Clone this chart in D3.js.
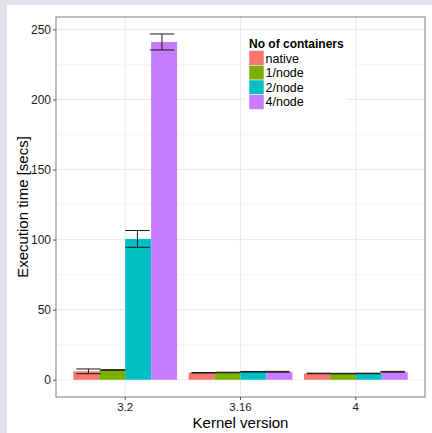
<!DOCTYPE html>
<html>
<head>
<meta charset="utf-8">
<script src="https://cdn.jsdelivr.net/npm/d3@7"></script>
<style>
  html, body { margin: 0; padding: 0; background: #e2e2ea; }
  svg { display: block; font-family: "Liberation Sans", Arial, sans-serif; }
</style>
</head>
<body>
<svg id="chart" width="432" height="433"></svg>
<script>
// Kernel versions on the x axis
const categories = ["3.2", "3.16", "4"];
// Container configurations (fill groups)
const seriesNames = ["native", "1/node", "2/node", "4/node"];
const seriesColors = ["#F8766D", "#7CAE00", "#00BFC4", "#C77CFF"];
// Mean execution time (secs) per kernel version
const nativeValues = [6.0, 5.0, 4.5];
const node1Values = [7.0, 5.2, 4.4];
const node2Values = [100.5, 5.7, 4.5];
const node4Values = [241.0, 5.7, 5.7];
// Error bar half-widths (secs)
const nativeErr = [1.7, 0.2, 0.2];
const node1Err = [0.2, 0.2, 0.2];
const node2Err = [6.0, 0.2, 0.2];
const node4Err = [5.7, 0.3, 0.3];
// Axis ticks
const yTicks = [0, 50, 100, 150, 200, 250];
const yMinorTicks = [25, 75, 125, 175, 225];

const values = [nativeValues, node1Values, node2Values, node4Values];
const errs = [nativeErr, node1Err, node2Err, node4Err];

const rows = [];
categories.forEach((c, ci) => {
  seriesNames.forEach((s, si) => {
    rows.push({ cat: c, series: s, si, value: values[si][ci], err: errs[si][ci] });
  });
});

const svg = d3.select("#chart");
const W = 432, H = 433;
const panel = { left: 56, right: 425, top: 17, bottom: 397 };

// page background
svg.append("rect").attr("x", 0).attr("y", 0).attr("width", W).attr("height", H).attr("fill", "#e2e2ea");
svg.append("rect").attr("x", 7).attr("y", 5).attr("width", W - 7).attr("height", H - 5).attr("fill", "#ffffff");

// scales
const x = d3.scaleBand().domain(categories)
  .range([panel.left, panel.right]).paddingInner(0.1).paddingOuter(0.15);
const xInner = d3.scaleBand().domain(seriesNames).range([0, x.bandwidth()]);
const errSpan = x.step() * 0.85;
const xErr = d3.scaleBand().domain(seriesNames).range([-errSpan / 2, errSpan / 2]);
const y = d3.scaleLinear().domain([-12.3, 258.8]).range([panel.bottom, panel.top]);

const g = svg.append("g");

// grid
g.selectAll("line.minor").data(yMinorTicks).join("line")
  .attr("x1", panel.left).attr("x2", panel.right)
  .attr("y1", d => y(d)).attr("y2", d => y(d))
  .attr("stroke", "#f4f4f4").attr("stroke-width", 0.8);
g.selectAll("line.major").data(yTicks).join("line")
  .attr("x1", panel.left).attr("x2", panel.right)
  .attr("y1", d => y(d)).attr("y2", d => y(d))
  .attr("stroke", "#ebebeb").attr("stroke-width", 1.2);
g.selectAll("line.vmajor").data(categories).join("line")
  .attr("x1", d => x(d) + x.bandwidth() / 2).attr("x2", d => x(d) + x.bandwidth() / 2)
  .attr("y1", panel.top).attr("y2", panel.bottom)
  .attr("stroke", "#ebebeb").attr("stroke-width", 1.2);

// bars
g.selectAll("rect.bar").data(rows).join("rect")
  .attr("class", "bar")
  .attr("x", d => x(d.cat) + xInner(d.series))
  .attr("width", xInner.bandwidth())
  .attr("y", d => y(Math.max(0, d.value)))
  .attr("height", d => Math.abs(y(d.value) - y(0)))
  .attr("fill", d => seriesColors[d.si]);

// error bars
const eb = g.selectAll("g.err").data(rows).join("g").attr("class", "err");
const ecx = d => x(d.cat) + x.bandwidth() / 2 + xErr(d.series) + xErr.bandwidth() / 2;
const ehw = xErr.bandwidth() / 2;
eb.append("line")
  .attr("x1", ecx).attr("x2", ecx)
  .attr("y1", d => y(d.value + d.err)).attr("y2", d => y(d.value - d.err))
  .attr("stroke", "#1a1a1a").attr("stroke-width", 1);
eb.append("line")
  .attr("x1", d => ecx(d) - ehw).attr("x2", d => ecx(d) + ehw)
  .attr("y1", d => y(d.value + d.err)).attr("y2", d => y(d.value + d.err))
  .attr("stroke", "#1a1a1a").attr("stroke-width", 1);
eb.append("line")
  .attr("x1", d => ecx(d) - ehw).attr("x2", d => ecx(d) + ehw)
  .attr("y1", d => y(d.value - d.err)).attr("y2", d => y(d.value - d.err))
  .attr("stroke", "#1a1a1a").attr("stroke-width", 1);

// panel border
svg.append("rect")
  .attr("x", panel.left).attr("y", panel.top)
  .attr("width", panel.right - panel.left).attr("height", panel.bottom - panel.top)
  .attr("fill", "none").attr("stroke", "#7f7f7f").attr("stroke-width", 1);

// axes
const yAxis = d3.axisLeft(y).tickValues(yTicks).tickSize(3).tickPadding(2).tickFormat(d3.format("d"));
const ya = svg.append("g").attr("transform", `translate(${panel.left},0)`).call(yAxis);
const xAxis = d3.axisBottom(x).tickSize(3).tickPadding(2.5);
const xa = svg.append("g").attr("transform", `translate(0,${panel.bottom})`).call(xAxis);
[ya, xa].forEach(a => {
  a.select(".domain").remove();
  a.selectAll(".tick line").attr("stroke", "#555");
  a.selectAll(".tick text").attr("fill", "#1a1a1a")
    .style("font-family", "'Liberation Sans', Arial, sans-serif");
});
ya.selectAll(".tick text").style("font-size", "12px");
xa.selectAll(".tick text").style("font-size", "11.5px");

// axis titles
svg.append("text")
  .attr("x", (panel.left + panel.right) / 2).attr("y", 427.5)
  .attr("text-anchor", "middle").style("font-size", "15px").attr("fill", "#000")
  .text("Kernel version");
svg.append("text")
  .attr("transform", `translate(28,${(panel.top + panel.bottom) / 2}) rotate(-90)`)
  .attr("text-anchor", "middle").style("font-size", "15px").attr("fill", "#000")
  .text("Execution time [secs]");

// legend
const lg = svg.append("g").attr("transform", "translate(245,33)");
lg.append("rect").attr("x", 0).attr("y", 0).attr("width", 102).attr("height", 80).attr("fill", "#ffffff");
lg.append("text").attr("x", 4).attr("y", 14.5)
  .style("font-size", "12px").style("font-weight", "bold").attr("fill", "#000")
  .text("No of containers");
const rowH = 14.65;
const items = lg.selectAll("g.item").data(seriesNames).join("g")
  .attr("transform", (d, i) => `translate(4,${17.7 + i * rowH})`);
items.append("rect").attr("x", 0).attr("y", 0).attr("width", 15).attr("height", rowH)
  .attr("fill", (d, i) => seriesColors[i]).attr("stroke", "#f2f2f2").attr("stroke-width", 0.6);
items.append("text").attr("x", 16.5).attr("y", rowH / 2 + 4.5)
  .style("font-size", "12.5px").attr("fill", "#000").text(d => d);
</script>
</body>
</html>
